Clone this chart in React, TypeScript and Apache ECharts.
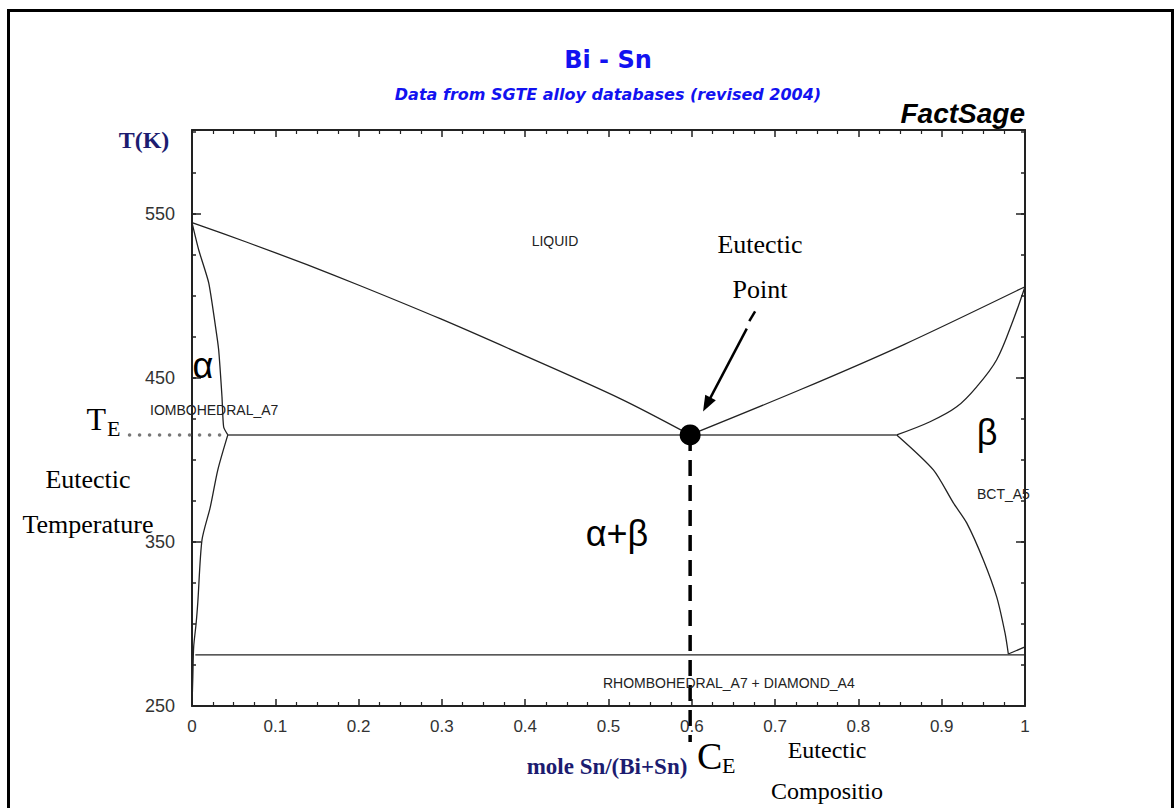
import React, { useEffect, useRef } from "react";
import * as echarts from "echarts";

// ---------- data (mole fraction Sn, temperature K) ----------
const eutecticX = 0.598;
const eutecticT = 415.2;

const liquidusBiSide: [number, number][] = [
  [0, 544.5], [0.066, 532.6], [0.138, 518.9], [0.202, 506.1],
  [0.298, 486.0], [0.394, 464.7], [0.514, 437.3], [0.598, 415.2],
];
const liquidusSnSide: [number, number][] = [
  [0.598, 415.2], [0.73, 442.7], [0.854, 470.1], [1, 505.5],
];
const solidusBi: [number, number][] = [
  [0, 544.5], [0.008, 528], [0.02, 508], [0.028, 482], [0.032, 467.1],
  [0.036, 438.4], [0.038, 420], [0.043, 415.2],
];
const solvusBi: [number, number][] = [
  [0.043, 415.2], [0.031, 393.9], [0.022, 371.3], [0.012, 351.2],
  [0.007, 313.4], [0.005, 300.6], [0.002, 286], [0.001, 267.7], [0, 250],
];
const solidusSn: [number, number][] = [
  [1, 505.5], [0.986, 485.4], [0.966, 461], [0.942, 444.5],
  [0.918, 432.3], [0.886, 423.2], [0.846, 415.2],
];
const solvusSn: [number, number][] = [
  [0.846, 415.2], [0.89, 393.9], [0.914, 373.8], [0.93, 361.6], [0.95, 339],
  [0.966, 316.5], [0.976, 294.5], [0.98, 281.7],
];
const snAllotropeEdge: [number, number][] = [[0.98, 281.7], [1, 286]];
const eutecticLine: [number, number][] = [[0.043, 415.2], [0.846, 415.2]];
const transitionLine: [number, number][] = [[0.004, 281.1], [1, 281.1]];
const teGuide: [number, number][] = [[-0.075, 415.2], [0.043, 415.2]];
const ceGuide: [number, number][] = [[0.598, 415.2], [0.598, 228]];
const arrowTail: [number, number][] = [[0.676, 490.5], [0.669, 484.5]];
const arrowMain: [number, number][] = [[0.666, 480], [0.618, 433.7]];

const yMajorLabels = [250, 350, 450, 550];

const serif = '"Liberation Serif", "Times New Roman", serif';
const sans = '"Liberation Sans", Arial, sans-serif';

export default function App() {
  const ref = useRef<HTMLDivElement>(null);

  useEffect(() => {
    if (!ref.current) return;
    const chart = echarts.init(ref.current, undefined, { renderer: "svg" });

    const lineCol = "#222";
    const xBase = (pos: "bottom" | "top", labels: boolean) => ({
      type: "value",
      position: pos,
      min: 0,
      max: 1,
      interval: 0.1,
      axisLine: { show: true, onZero: false, lineStyle: { color: lineCol, width: 2 } },
      axisTick: { show: true, inside: true, length: 7, lineStyle: { color: lineCol, width: 1.5 } },
      minorTick: { show: true, splitNumber: 4, length: 4, lineStyle: { color: lineCol, width: 1.2 } },
      splitLine: { show: false },
      axisLabel: {
        show: labels,
        margin: 12,
        color: "#333",
        fontFamily: sans,
        fontSize: 17,
        formatter: (v: number) => (v === 0 ? "0" : v === 1 ? "1" : v.toFixed(1)),
      },
    });
    const yBase = (pos: "left" | "right", interval: number, len: number, labels: boolean, line: boolean) => ({
      type: "value",
      position: pos,
      min: 250,
      max: 601,
      interval,
      axisLine: { show: line, onZero: false, lineStyle: { color: lineCol, width: 2 } },
      axisTick: { show: true, inside: true, length: len, lineStyle: { color: lineCol, width: 1.5 } },
      splitLine: { show: false },
      axisLabel: {
        show: labels,
        margin: 17,
        color: "#333",
        fontFamily: sans,
        fontSize: 18,
        formatter: (v: number) => (yMajorLabels.includes(v) ? String(v) : ""),
      },
    });

    const curve = (data: [number, number][], extra: any = {}) => ({
      type: "line",
      data,
      symbol: "none",
      showSymbol: false,
      silent: true,
      xAxisIndex: 0,
      yAxisIndex: 0,
      lineStyle: { color: "#222", width: 1.3 },
      ...extra,
    });

    const text = (t: string, x: number, y: number, font: string, fill = "#000", align = "center", va = "middle") => ({
      type: "text",
      x,
      y,
      z: 100,
      style: { text: t, font, fill, textAlign: align, textVerticalAlign: va },
    });

    chart.setOption({
      animation: false,
      backgroundColor: "#fff",
      grid: { left: 192, right: 149, top: 130, bottom: 102, containLabel: false },
      xAxis: [xBase("bottom", true), xBase("top", false)],
      yAxis: [
        yBase("left", 100, 9, true, true),
        yBase("left", 25, 4, false, false),
        yBase("right", 100, 9, false, true),
        yBase("right", 25, 4, false, false),
      ],
      series: [
        curve(liquidusBiSide, { smooth: 0.3 }),
        curve(liquidusSnSide, { smooth: 0.3 }),
        curve(solidusBi, { smooth: 0.2 }),
        curve(solvusBi, { smooth: 0.25 }),
        curve(solidusSn, { smooth: 0.35 }),
        curve(solvusSn, { smooth: 0.25 }),
        curve(snAllotropeEdge),
        curve(eutecticLine, { lineStyle: { color: "#444", width: 1.5 } }),
        curve(transitionLine),
        curve(ceGuide, {
          clip: false,
          lineStyle: { color: "#000", width: 3.5, type: [16, 9] },
        }),
        curve(arrowTail, { lineStyle: { color: "#000", width: 2.5 } }),
        {
          type: "line",
          data: [],
          silent: true,
          markLine: {
            silent: true,
            symbol: ["none", "triangle"],
            symbolSize: [12, 16],
            label: { show: false },
            lineStyle: { color: "#000", width: 2.5, type: "solid" },
            data: [[{ coord: arrowMain[0] }, { coord: arrowMain[1] }]],
          },
        },
        {
          type: "scatter",
          data: [[eutecticX, eutecticT]],
          symbol: "circle",
          symbolSize: 21,
          silent: true,
          itemStyle: { color: "#000", opacity: 1 },
          z: 10,
        },
      ],
    });

    // dotted guide to the T_E label, placed through the grid's own data->pixel mapping
    const p0 = chart.convertToPixel({ gridIndex: 0 }, teGuide[0]) as number[];
    const p1 = chart.convertToPixel({ gridIndex: 0 }, teGuide[1]) as number[];

    chart.setOption({
      graphic: [
        {
          type: "polyline",
          shape: { points: [[8.5, 808], [8.5, 10.5], [1172.5, 10.5], [1172.5, 808]] },
          style: { stroke: "#000", lineWidth: 3, fill: null },
        },
        {
          type: "line",
          z: 5,
          shape: { x1: p0[0], y1: p0[1], x2: p1[0], y2: p1[1] },
          style: { stroke: "#777", lineWidth: 3.5, lineDash: [0.1, 9.9], lineCap: "round" },
        },
        text("Bi - Sn", 608, 60, 'bold 24px "DejaVu Sans"', "#1212f0"),
        text("Data from SGTE alloy databases (revised 2004)", 608, 94, 'italic bold 16px "DejaVu Sans"', "#1212f0"),
        text("FactSage", 1025, 113, `italic bold 28px ${sans}`, "#000", "right"),
        text("T(K)", 144, 140, `bold 24px ${serif}`, "#1c1c70"),
        text("mole Sn/(Bi+Sn)", 607, 766, `bold 23px ${serif}`, "#1c1c70"),
        text("LIQUID", 555, 241, `14px ${sans}`, "#222"),
        text("IOMBOHEDRAL_A7", 150, 410, `14px ${sans}`, "#222", "left"),
        text("BCT_A5", 977, 494, `14px ${sans}`, "#222", "left"),
        text("RHOMBOHEDRAL_A7 + DIAMOND_A4", 603, 683, `14px ${sans}`, "#222", "left"),
        text("Eutectic", 760, 244, `26px ${serif}`),
        text("Point", 760, 289, `26px ${serif}`),
        text("α", 203, 365, `36px ${sans}`),
        text("β", 987, 432, `36px ${sans}`),
        text("α+β", 617, 533, `36px ${sans}`),
        text("T", 106, 419, `32px ${serif}`, "#000", "right"),
        text("E", 107, 428, `22px ${serif}`, "#000", "left"),
        text("Eutectic", 88, 479, `26px ${serif}`),
        text("Temperature", 88, 524, `26px ${serif}`),
        text("C", 697, 756, `38px ${serif}`, "#000", "left"),
        text("E", 722, 765, `22px ${serif}`, "#000", "left"),
        text("Eutectic", 827, 750, `24px ${serif}`),
        text("Compositio", 827, 791, `24px ${serif}`),
      ],
    });

    return () => chart.dispose();
  }, []);

  return (
    <div
      ref={ref}
      style={{ position: "absolute", left: 0, top: 0, width: 1174, height: 808, background: "#fff" }}
    />
  );
}
